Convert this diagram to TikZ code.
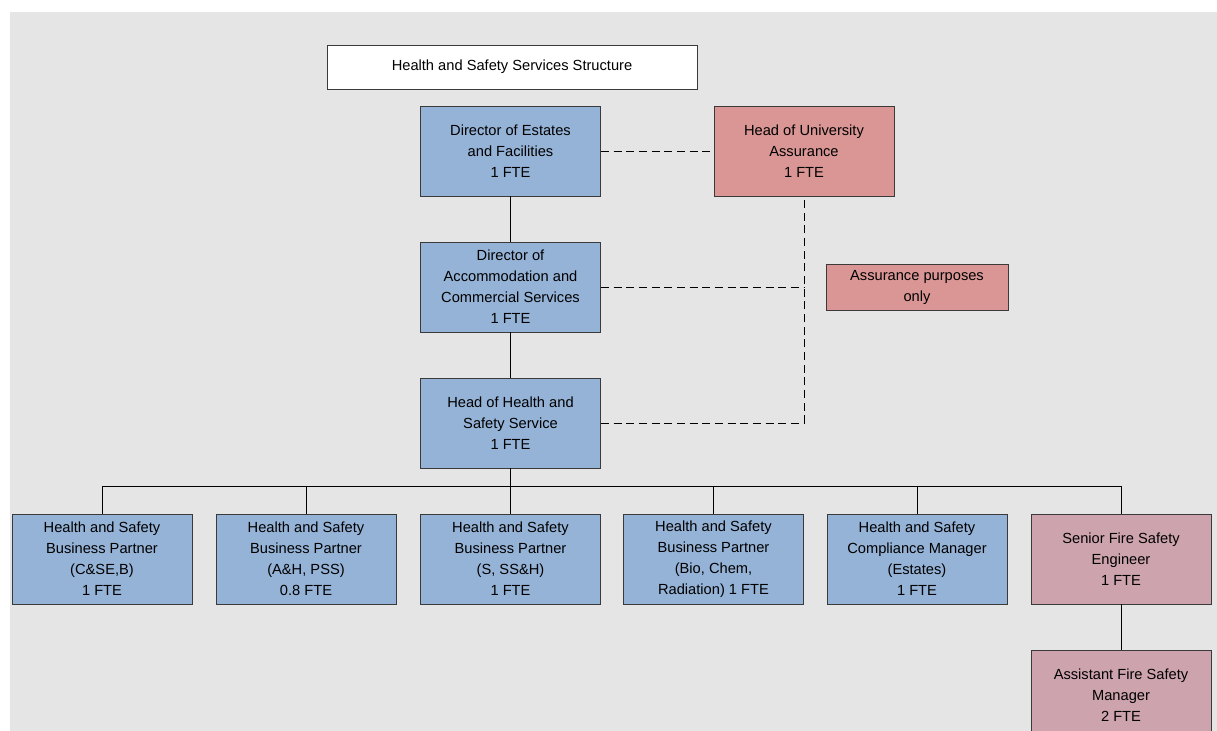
\documentclass[tikz,border=0pt]{standalone}
\usepackage{fontspec}
\setmainfont{Liberation Sans}
\usetikzlibrary{calc}
\definecolor{bgGrey}{HTML}{E5E5E5}
\definecolor{staffBlue}{HTML}{95B3D7}
\definecolor{assurRed}{HTML}{D99694}
\definecolor{firePink}{HTML}{CDA4AE}
\definecolor{edgeGrey}{HTML}{3A3A3A}

\begin{document}
\begin{tikzpicture}[x=0.75pt,y=-0.75pt,
    post/.style={draw=edgeGrey,line width=0.6pt,fill=staffBlue,minimum width=135pt,minimum height=67.5pt,
      inner sep=0pt,align=center,font=\fontsize{11}{15.75}\selectfont},
    assur/.style={post,fill=assurRed},
    fire/.style={post,fill=firePink},
    link/.style={line width=0.6pt},
    dotlink/.style={line width=0.6pt,dash pattern=on 6pt off 3.5pt}]
      \clip (0,0) rectangle (1217,731);
      \fill[bgGrey] (10,12) rectangle (1217,731);
      % top of the structure
      \node[post,fill=white,minimum width=277.5pt,minimum height=33pt] (title) at (512,67) {Health and Safety Services Structure};
      \node[post] (dirEst) at (510.5,151) {Director of Estates\\and Facilities\\1 FTE};
      \node[assur] (hua) at (804,151) {Head of University\\Assurance\\1 FTE};
      \node[post] (dirAcc) at (510.5,287) {Director of\\Accommodation and\\Commercial Services\\1 FTE};
      \node[assur,minimum width=136.5pt,minimum height=34.5pt] (assurOnly) at (917,287) {Assurance purposes\\only};
      \node[post] (hhs) at (510.5,423) {Head of Health and\\Safety Service\\1 FTE};
      % bottom row
      \node[post] (bp1) at (102,559) {Health and Safety\\Business Partner\\(C\&SE,B)\\1 FTE};
      \node[post] (bp2) at (306,559) {Health and Safety\\Business Partner\\(A\&H, PSS)\\0.8 FTE};
      \node[post] (bp3) at (510.5,559) {Health and Safety\\Business Partner\\(S, SS\&H)\\1 FTE};
      \node[post] (bp4) at (713.5,559) {Health and Safety\\Business Partner\\(Bio, Chem,\\Radiation) 1 FTE};
      \node[post] (hscm) at (917,559) {Health and Safety\\Compliance Manager\\(Estates)\\1 FTE};
      \node[fire] (sfse) at (1121,559) {Senior Fire Safety\\Engineer\\1 FTE};
      \node[fire] (afsm) at (1121,695) {Assistant Fire Safety\\Manager\\2 FTE};
      \coordinate (bus) at (0,486);
      % solid lines
      \draw[link] (dirEst) -- (dirAcc);
      \draw[link] (dirAcc) -- (hhs);
      \draw[link] (hhs.south) -- (hhs.south |- bus);
      \draw[link] (bus -| bp1.north) -- (bus -| sfse.north);
      \foreach \n in {bp1,bp2,bp3,bp4,hscm,sfse}
        \draw[link] (bus -| \n.north) -- (\n.north);
      \draw[link] (sfse) -- (afsm);
      % dashed assurance lines
      \draw[dotlink] (dirEst) -- (hua);
      \draw[dotlink] (hhs.east) -- (hhs.east -| hua.south) -- (hua.south);
      \draw[dotlink] (dirAcc.east) -- (dirAcc.east -| hua.south);
\end{tikzpicture}
\end{document}
